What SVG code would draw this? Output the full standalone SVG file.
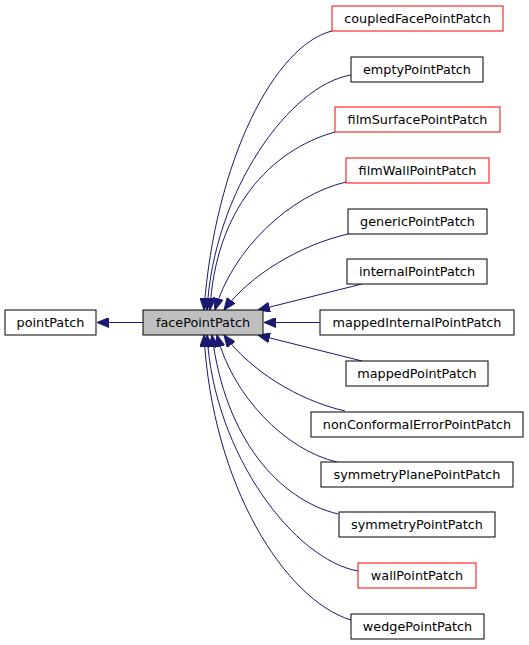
<svg xmlns="http://www.w3.org/2000/svg" width="529" height="645" viewBox="0 0 529 645">
<style>
.n rect{fill:#ffffff;stroke:#000000;stroke-width:1}
.n.r rect{stroke:#ff0000}
.n.c rect{fill:#bfbfbf}
.n text{font-family:"DejaVu Sans",sans-serif;font-size:12.8px;fill:#000000;text-anchor:middle}
.e path{fill:none;stroke:#191970;stroke-width:1;marker-end:url(#ah)}
</style>
<defs>
<marker id="ah" markerUnits="userSpaceOnUse" viewBox="0 0 12 10" refX="12" refY="5" markerWidth="12" markerHeight="10" orient="auto">
<path d="M0,0 L12,5 L0,10 z" fill="#191970" stroke="#191970" stroke-width="1"/>
</marker>
</defs>
<rect width="529" height="645" fill="#ffffff"/>
<g id="edges" class="e">
<path d="M143,322.5 L97,322.5"/>
<path d="M332,31 C275,45 215,160 204,310"/>
<path d="M351,75 C290,85 214,190 207,310"/>
<path d="M335,132 C270,150 215,210 210,310"/>
<path d="M346,182 C290,195 232,250 215,310"/>
<path d="M348,234 C300,245 250,275 224,310"/>
<path d="M362,284 L258,310"/>
<path d="M320,322.5 L264,322.5"/>
<path d="M362,361 L258,335"/>
<path d="M345,411 C297,400 250,370 224,335"/>
<path d="M337,462 C285,450 232,395 217,335"/>
<path d="M338,514 C280,500 225,440 212,335"/>
<path d="M358,571 C295,560 214,455 207,335"/>
<path d="M351,620 C285,600 212,485 204,335"/>
</g>
<g id="pointPatch" class="n"><rect x="5" y="310" width="91" height="25"/><text x="50.5" y="327">pointPatch</text></g>
<g id="facePointPatch" class="n c"><rect x="143" y="310" width="120" height="25"/><text x="203" y="327">facePointPatch</text></g>
<g id="coupledFacePointPatch" class="n r"><rect x="332" y="6" width="171" height="25"/><text x="417.5" y="23">coupledFacePointPatch</text></g>
<g id="emptyPointPatch" class="n"><rect x="351" y="57" width="132" height="25"/><text x="417" y="74">emptyPointPatch</text></g>
<g id="filmSurfacePointPatch" class="n r"><rect x="335" y="107" width="165" height="25"/><text x="417.5" y="124">filmSurfacePointPatch</text></g>
<g id="filmWallPointPatch" class="n r"><rect x="346" y="158" width="143" height="25"/><text x="417.5" y="175">filmWallPointPatch</text></g>
<g id="genericPointPatch" class="n"><rect x="348" y="209" width="139" height="25"/><text x="417.5" y="226">genericPointPatch</text></g>
<g id="internalPointPatch" class="n"><rect x="347" y="259" width="140" height="25"/><text x="417" y="276">internalPointPatch</text></g>
<g id="mappedInternalPointPatch" class="n"><rect x="320" y="310" width="194" height="25"/><text x="417" y="327">mappedInternalPointPatch</text></g>
<g id="mappedPointPatch" class="n"><rect x="346" y="361" width="142" height="25"/><text x="417" y="378">mappedPointPatch</text></g>
<g id="nonConformalErrorPointPatch" class="n"><rect x="311" y="412" width="212" height="25"/><text x="417" y="429">nonConformalErrorPointPatch</text></g>
<g id="symmetryPlanePointPatch" class="n"><rect x="321" y="462" width="192" height="25"/><text x="417" y="479">symmetryPlanePointPatch</text></g>
<g id="symmetryPointPatch" class="n"><rect x="339" y="512" width="156" height="25"/><text x="417" y="529">symmetryPointPatch</text></g>
<g id="wallPointPatch" class="n r"><rect x="358" y="563" width="118" height="25"/><text x="417" y="580">wallPointPatch</text></g>
<g id="wedgePointPatch" class="n"><rect x="351" y="614" width="133" height="25"/><text x="417.5" y="631">wedgePointPatch</text></g>
</svg>
